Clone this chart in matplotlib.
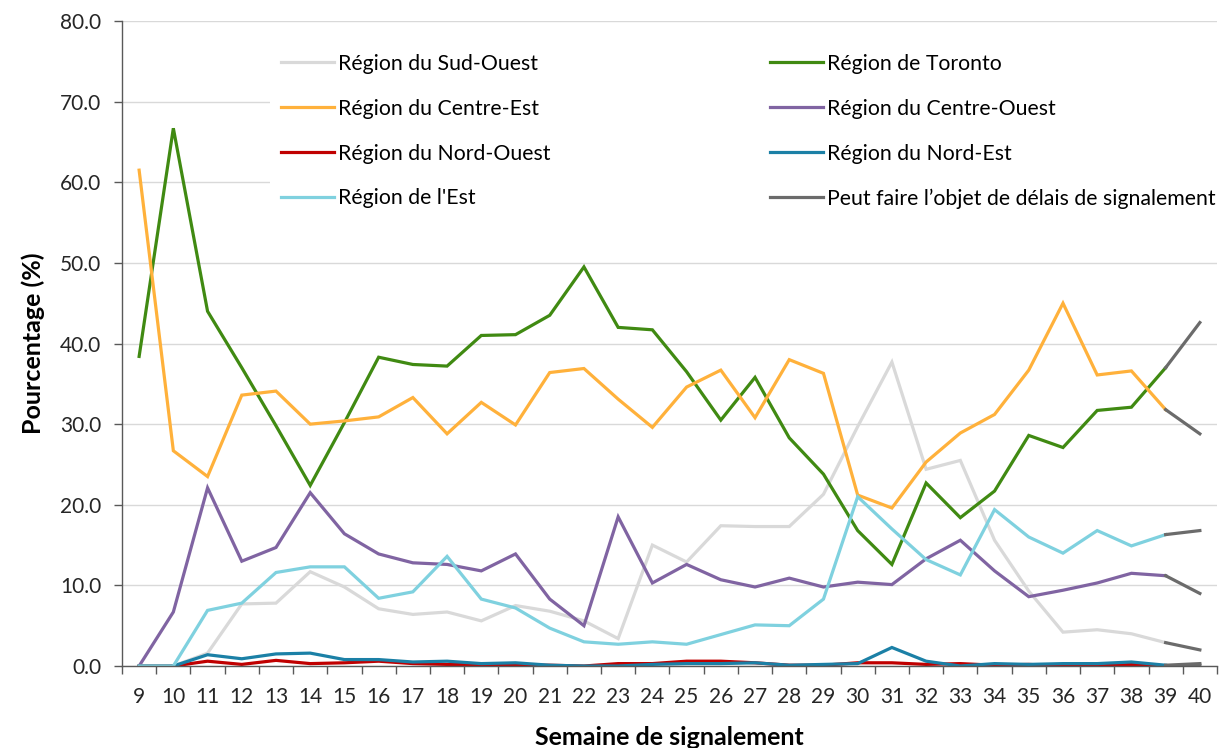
import matplotlib
matplotlib.use("Agg")
import matplotlib.pyplot as plt
import numpy as np

weeks = list(range(9, 41))
week_labels = [str(w) for w in weeks]

sud_ouest = [0, 0, 1.6, 7.7, 7.8, 11.7, 9.8, 7.1, 6.4, 6.7, 5.6, 7.5, 6.8, 5.6, 3.4, 15.0,
             12.9, 17.4, 17.3, 17.3, 21.3, 29.7, 37.7, 24.4, 25.5, 15.6, 9.3, 4.2, 4.5, 4.0, 2.9, 2.0]
toronto = [38.4, 66.7, 44.0, 37.0, 29.8, 22.4, 30.2, 38.3, 37.4, 37.2, 41.0, 41.1, 43.5, 49.5, 42.0, 41.7,
           36.5, 30.5, 35.8, 28.3, 23.8, 16.8, 12.6, 22.7, 18.4, 21.7, 28.6, 27.1, 31.7, 32.1, 37.0, 42.6]
centre_est = [61.5, 26.7, 23.5, 33.6, 34.1, 30.0, 30.4, 30.9, 33.3, 28.8, 32.7, 29.9, 36.4, 36.9, 33.1, 29.6,
              34.6, 36.7, 30.8, 38.0, 36.3, 21.2, 19.6, 25.3, 28.9, 31.2, 36.7, 45.0, 36.1, 36.6, 31.8, 28.8]
centre_ouest = [0, 6.7, 22.1, 13.0, 14.7, 21.5, 16.4, 13.9, 12.8, 12.6, 11.8, 13.9, 8.3, 5.0, 18.5, 10.3,
                12.6, 10.7, 9.8, 10.9, 9.8, 10.4, 10.1, 13.3, 15.6, 11.8, 8.6, 9.4, 10.3, 11.5, 11.2, 9.0]
nord_ouest = [0, 0, 0.6, 0.2, 0.7, 0.3, 0.4, 0.6, 0.3, 0.2, 0.2, 0.1, 0.1, 0.0, 0.3, 0.3,
              0.6, 0.6, 0.4, 0.1, 0.1, 0.4, 0.4, 0.2, 0.3, 0.1, 0.2, 0.0, 0.0, 0.2, 0.0, 0.1]
nord_est = [0, 0, 1.4, 0.9, 1.5, 1.6, 0.8, 0.8, 0.5, 0.6, 0.3, 0.4, 0.1, 0.0, 0.0, 0.2,
            0.3, 0.3, 0.4, 0.1, 0.2, 0.3, 2.3, 0.6, 0.0, 0.3, 0.2, 0.3, 0.3, 0.5, 0.1, 0.3]
est = [0, 0, 6.9, 7.8, 11.6, 12.3, 12.3, 8.4, 9.2, 13.6, 8.3, 7.2, 4.7, 3.0, 2.7, 3.0,
       2.7, 3.9, 5.1, 5.0, 8.3, 21.0, 17.0, 13.2, 11.3, 19.4, 16.0, 14.0, 16.8, 14.9, 16.3, 16.8]

series_names = ["Région du Sud-Ouest", "Région de Toronto", "Région du Centre-Est",
                "Région du Centre-Ouest", "Région du Nord-Ouest", "Région du Nord-Est",
                "Région de l'Est"]
series_values = [sud_ouest, toronto, centre_est, centre_ouest, nord_ouest, nord_est, est]
series_colors = ["#D9D9D9", "#408A12", "#FFB13B", "#8064A2", "#C00000", "#1B80A6", "#7FD1DF"]
delay_label = "Peut faire l\u2019objet de délais de signalement"
delay_color = "#6B6B6B"

plt.rcParams['font.family'] = ['Lato', 'DejaVu Sans']

fig = plt.figure(figsize=(12.3, 7.48), dpi=100)
ax = fig.add_axes([0.0992, 0.1096, 0.8902, 0.8623])

w = np.array(weeks)
handles = {}
for name, vals, col in zip(series_names, series_values, series_colors):
    v = np.array(vals)
    ln, = ax.plot(w[:-1], v[:-1], color=col, lw=2.3, solid_joinstyle='miter', label=name)
    handles[name] = ln
dl = None
for vals in series_values:
    v = np.array(vals)
    dl, = ax.plot(w[-2:], v[-2:], color=delay_color, lw=2.3, label=delay_label)

ax.set_xlim(8.5, 40.5)
ax.set_ylim(0, 80)
ax.set_yticks(np.arange(0, 81, 10))
ax.set_yticklabels([f"{t:.1f}" for t in np.arange(0, 81, 10)])
ax.set_xticks(weeks)
ax.set_xticklabels(week_labels)
ax.set_xticks(np.arange(8.5, 41, 1), minor=True)
ax.tick_params(axis='x', which='major', length=0, labelsize=15, pad=15, colors='#262626')
ax.tick_params(axis='x', which='minor', length=6, width=1, color='#595959', direction='out')
ax.tick_params(axis='y', which='major', length=6, width=1, color='#595959', labelsize=15,
               labelcolor='#262626', pad=9)
ax.grid(axis='y', color='#D9D9D9', lw=1)
ax.set_axisbelow(True)
for s in ['top', 'right']:
    ax.spines[s].set_visible(False)
for s in ['left', 'bottom']:
    ax.spines[s].set_color('#595959')
    ax.spines[s].set_linewidth(1)

ax.set_ylabel("Pourcentage (%)", fontsize=18, fontweight='bold', labelpad=11)
ax.set_xlabel("Semaine de signalement", fontsize=18, fontweight='bold', labelpad=14)

order = [series_names[0], series_names[2], series_names[4], series_names[6],
         series_names[1], series_names[3], series_names[5]]
hl = [handles[n] for n in order] + [dl]
labels = order + [delay_label]
leg = ax.legend(hl, labels, ncol=2, loc='upper left', bbox_to_anchor=(0.1355, 0.9655),
                fontsize=15.3, frameon=True, facecolor='white', edgecolor='none', framealpha=1,
                handlelength=2.5, handletextpad=0.2, columnspacing=10.3, labelspacing=1.17,
                borderpad=0.5, borderaxespad=0)
leg.get_frame().set_linewidth(0)

fig.savefig("out.png", dpi=100)
